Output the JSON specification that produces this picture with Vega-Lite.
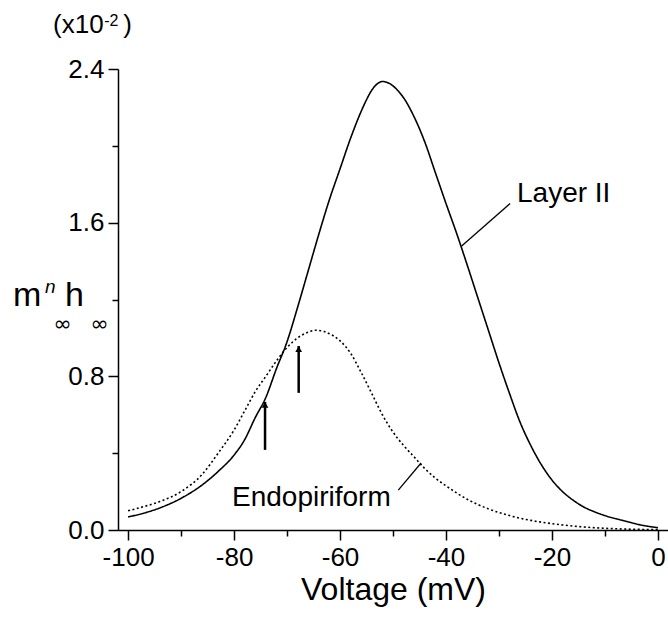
{
  "$schema": "https://vega.github.io/schema/vega-lite/v6.json",
  "width": 550,
  "height": 461,
  "autosize": {"type": "none"},
  "padding": {"left": 118, "top": 69, "right": 0, "bottom": 87},
  "background": "white",
  "config": {
    "view": {"stroke": null},
    "font": "Liberation Sans",
    "text": {"font": "Liberation Sans", "color": "black"}
  },
  "datasets": {
    "curves": [
      {"series": "Layer II", "v": -100, "y": 0.068},
      {"series": "Layer II", "v": -97, "y": 0.088},
      {"series": "Layer II", "v": -94, "y": 0.115},
      {"series": "Layer II", "v": -90, "y": 0.165},
      {"series": "Layer II", "v": -86, "y": 0.235},
      {"series": "Layer II", "v": -83, "y": 0.305},
      {"series": "Layer II", "v": -80, "y": 0.39},
      {"series": "Layer II", "v": -78, "y": 0.47},
      {"series": "Layer II", "v": -76, "y": 0.585},
      {"series": "Layer II", "v": -74, "y": 0.69},
      {"series": "Layer II", "v": -72, "y": 0.84},
      {"series": "Layer II", "v": -70, "y": 0.98},
      {"series": "Layer II", "v": -68, "y": 1.16},
      {"series": "Layer II", "v": -66, "y": 1.35},
      {"series": "Layer II", "v": -64, "y": 1.54},
      {"series": "Layer II", "v": -62, "y": 1.72},
      {"series": "Layer II", "v": -60, "y": 1.88},
      {"series": "Layer II", "v": -58, "y": 2.04},
      {"series": "Layer II", "v": -56, "y": 2.18},
      {"series": "Layer II", "v": -55, "y": 2.24},
      {"series": "Layer II", "v": -54, "y": 2.29},
      {"series": "Layer II", "v": -53, "y": 2.322},
      {"series": "Layer II", "v": -52, "y": 2.335},
      {"series": "Layer II", "v": -51, "y": 2.329},
      {"series": "Layer II", "v": -50, "y": 2.312},
      {"series": "Layer II", "v": -49, "y": 2.285},
      {"series": "Layer II", "v": -48, "y": 2.25},
      {"series": "Layer II", "v": -46, "y": 2.15},
      {"series": "Layer II", "v": -44, "y": 2.02},
      {"series": "Layer II", "v": -42, "y": 1.86},
      {"series": "Layer II", "v": -40, "y": 1.7},
      {"series": "Layer II", "v": -38, "y": 1.545},
      {"series": "Layer II", "v": -36, "y": 1.38},
      {"series": "Layer II", "v": -34, "y": 1.21},
      {"series": "Layer II", "v": -32, "y": 1.04},
      {"series": "Layer II", "v": -30, "y": 0.87},
      {"series": "Layer II", "v": -28, "y": 0.71},
      {"series": "Layer II", "v": -26, "y": 0.56},
      {"series": "Layer II", "v": -24, "y": 0.44},
      {"series": "Layer II", "v": -22, "y": 0.34},
      {"series": "Layer II", "v": -20, "y": 0.26},
      {"series": "Layer II", "v": -18, "y": 0.2},
      {"series": "Layer II", "v": -16, "y": 0.155},
      {"series": "Layer II", "v": -14, "y": 0.12},
      {"series": "Layer II", "v": -12, "y": 0.095},
      {"series": "Layer II", "v": -10, "y": 0.075},
      {"series": "Layer II", "v": -6, "y": 0.045},
      {"series": "Layer II", "v": -3, "y": 0.025},
      {"series": "Layer II", "v": 0, "y": 0.012},
      {"series": "Endopiriform", "v": -100, "y": 0.1},
      {"series": "Endopiriform", "v": -97, "y": 0.122},
      {"series": "Endopiriform", "v": -94, "y": 0.148},
      {"series": "Endopiriform", "v": -90, "y": 0.2},
      {"series": "Endopiriform", "v": -86, "y": 0.29},
      {"series": "Endopiriform", "v": -83, "y": 0.4},
      {"series": "Endopiriform", "v": -80, "y": 0.52},
      {"series": "Endopiriform", "v": -78, "y": 0.62},
      {"series": "Endopiriform", "v": -76, "y": 0.72},
      {"series": "Endopiriform", "v": -74, "y": 0.8},
      {"series": "Endopiriform", "v": -72, "y": 0.88},
      {"series": "Endopiriform", "v": -70, "y": 0.95},
      {"series": "Endopiriform", "v": -68, "y": 1.0},
      {"series": "Endopiriform", "v": -66, "y": 1.03},
      {"series": "Endopiriform", "v": -64.5, "y": 1.04},
      {"series": "Endopiriform", "v": -63, "y": 1.033},
      {"series": "Endopiriform", "v": -61.5, "y": 1.015},
      {"series": "Endopiriform", "v": -60, "y": 0.985},
      {"series": "Endopiriform", "v": -58, "y": 0.92},
      {"series": "Endopiriform", "v": -56, "y": 0.82},
      {"series": "Endopiriform", "v": -54, "y": 0.71},
      {"series": "Endopiriform", "v": -52, "y": 0.6},
      {"series": "Endopiriform", "v": -50, "y": 0.51},
      {"series": "Endopiriform", "v": -48, "y": 0.44},
      {"series": "Endopiriform", "v": -46, "y": 0.38},
      {"series": "Endopiriform", "v": -44, "y": 0.32},
      {"series": "Endopiriform", "v": -42, "y": 0.27},
      {"series": "Endopiriform", "v": -40, "y": 0.23},
      {"series": "Endopiriform", "v": -36, "y": 0.16},
      {"series": "Endopiriform", "v": -32, "y": 0.11},
      {"series": "Endopiriform", "v": -28, "y": 0.075},
      {"series": "Endopiriform", "v": -24, "y": 0.05},
      {"series": "Endopiriform", "v": -20, "y": 0.033},
      {"series": "Endopiriform", "v": -15, "y": 0.018},
      {"series": "Endopiriform", "v": -10, "y": 0.009},
      {"series": "Endopiriform", "v": -5, "y": 0.004},
      {"series": "Endopiriform", "v": 0, "y": 0.002}
    ],
    "arrows": [
      {"v": -74.15, "y": 0.417, "ytop": 0.667},
      {"v": -67.8, "y": 0.714, "ytop": 0.958}
    ],
    "leaders": [
      {"v": -37.04, "y": 1.479, "v2": -27.9, "y2": 1.7},
      {"v": -49.0, "y": 0.208, "v2": -44.7, "y2": 0.349}
    ]
  },
  "encoding": {
    "x": {
      "field": "v",
      "type": "quantitative",
      "scale": {"domain": [-101.9, 1.9], "nice": false, "zero": false},
      "axis": {
        "values": [-100, -90, -80, -70, -60, -50, -40, -30, -20, -10, 0],
        "labelExpr": "datum.value % 20 === 0 ? '' + datum.value : ''",
        "tickSize": {"condition": {"test": "datum.value % 20 === 0", "value": 10}, "value": 6},
        "grid": false,
        "domainColor": "black",
        "domainWidth": 1.5,
        "tickColor": "black",
        "tickWidth": 1.5,
        "labelFont": "Liberation Sans",
        "labelFontSize": 26,
        "labelColor": "black",
        "labelPadding": 4,
        "labelFlush": false,
        "labelOverlap": false,
        "title": "Voltage (mV)",
        "titleFont": "Liberation Sans",
        "titleFontSize": 32,
        "titleFontWeight": "normal",
        "titleColor": "black",
        "titlePadding": 4
      }
    },
    "y": {
      "field": "y",
      "type": "quantitative",
      "scale": {"domain": [0, 2.4], "nice": false, "zero": false},
      "axis": {
        "values": [0, 0.4, 0.8, 1.2, 1.6, 2.0, 2.4],
        "labelExpr": "indexof([0, 0.8, 1.6, 2.4], datum.value) >= 0 ? format(datum.value, '.1f') : ''",
        "tickSize": {"condition": {"test": "indexof([0, 0.8, 1.6, 2.4], datum.value) >= 0", "value": 10}, "value": 6},
        "grid": false,
        "domainColor": "black",
        "domainWidth": 1.5,
        "tickColor": "black",
        "tickWidth": 1.5,
        "labelFont": "Liberation Sans",
        "labelFontSize": 26,
        "labelColor": "black",
        "labelPadding": 4,
        "labelFlush": false,
        "labelOverlap": false,
        "title": null
      }
    }
  },
  "layer": [
    {
      "data": {"name": "curves"},
      "mark": {"type": "line", "color": "black", "strokeWidth": 1.6, "interpolate": "monotone"},
      "encoding": {
        "strokeDash": {
          "field": "series",
          "type": "nominal",
          "scale": {"domain": ["Layer II", "Endopiriform"], "range": [[1, 0], [2, 2.5]]},
          "legend": null
        }
      }
    },
    {
      "data": {"name": "arrows"},
      "mark": {"type": "rule", "color": "black", "strokeWidth": 2.5},
      "encoding": {"y2": {"field": "ytop"}}
    },
    {
      "data": {"name": "arrows"},
      "mark": {"type": "point", "shape": "triangle-up", "filled": true, "color": "black", "opacity": 1, "size": 45, "yOffset": 3},
      "encoding": {"y": {"field": "ytop", "type": "quantitative"}}
    },
    {
      "data": {"name": "leaders"},
      "mark": {"type": "rule", "color": "black", "strokeWidth": 1.3},
      "encoding": {"x2": {"field": "v2"}, "y2": {"field": "y2"}}
    },
    {
      "data": {"values": [
        {"label": "Layer II", "v": -26.6, "y": 1.708},
        {"label": "Endopiriform", "v": -80.38, "y": 0.125}
      ]},
      "mark": {"type": "text", "align": "left", "baseline": "alphabetic", "fontSize": 28, "font": "Liberation Sans", "color": "black"},
      "encoding": {"text": {"field": "label"}}
    },
    {
      "data": {"values": [
        {"label": "(x10", "v": -114.15, "y": 2.589},
        {"label": ")", "v": -100.9, "y": 2.589}
      ]},
      "mark": {"type": "text", "align": "left", "baseline": "alphabetic", "fontSize": 26, "font": "Liberation Sans", "color": "black"},
      "encoding": {"text": {"field": "label"}}
    },
    {
      "data": {"values": [
        {"label": "-2", "v": -104.5, "y": 2.625}
      ]},
      "mark": {"type": "text", "align": "left", "baseline": "alphabetic", "fontSize": 16, "font": "Liberation Sans", "color": "black"},
      "encoding": {"text": {"field": "label"}}
    },
    {
      "data": {"values": [
        {"label": "m", "v": -121.7, "y": 1.1667},
        {"label": "h", "v": -111.89, "y": 1.1667}
      ]},
      "mark": {"type": "text", "align": "left", "baseline": "alphabetic", "fontSize": 34, "font": "Liberation Sans", "color": "black"},
      "encoding": {"text": {"field": "label"}}
    },
    {
      "data": {"values": [
        {"label": "n", "v": -115.66, "y": 1.234}
      ]},
      "mark": {"type": "text", "align": "left", "baseline": "alphabetic", "fontSize": 19, "fontStyle": "italic", "font": "Liberation Sans", "color": "black"},
      "encoding": {"text": {"field": "label"}}
    },
    {
      "data": {"values": [
        {"label": "∞", "v": -112.36, "y": 1.075},
        {"label": "∞", "v": -105.38, "y": 1.075}
      ]},
      "mark": {"type": "text", "align": "center", "baseline": "middle", "fontSize": 22, "font": "DejaVu Sans", "color": "black"},
      "encoding": {"text": {"field": "label"}}
    }
  ]
}
